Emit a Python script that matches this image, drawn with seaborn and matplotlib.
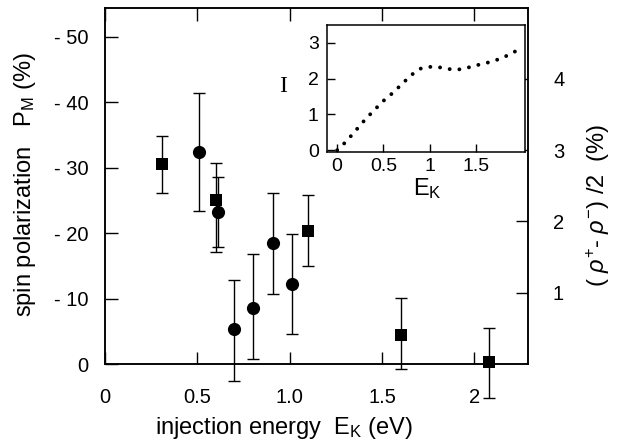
import matplotlib
matplotlib.use("Agg")
import matplotlib.pyplot as plt
import seaborn as sns
import pandas as pd

# ---- data ----
sq_energy = [0.31, 0.60, 1.10, 1.60, 2.08]
sq_pol = [-30.5, -25.0, -20.3, -4.5, -0.3]
sq_err_top = [4.4, 5.7, 5.5, 5.6, 5.2]
sq_err_bot = [4.3, 7.9, 5.3, 5.3, 5.5]

ci_energy = [0.51, 0.61, 0.70, 0.80, 0.91, 1.01]
ci_pol = [-32.4, -23.2, -5.3, -8.5, -18.5, -12.3]
ci_err_top = [9.0, 5.4, 7.6, 8.3, 7.6, 7.6]
ci_err_bot = [9.0, 5.3, 7.9, 7.7, 7.8, 7.7]

inset_e = [0.0, 0.1, 0.2, 0.3, 0.4, 0.5, 0.6, 0.7, 0.8, 0.9, 1.0,
           1.1, 1.2, 1.3, 1.4, 1.5, 1.6, 1.7, 1.8, 1.9, 2.0]
inset_i = [0.0, 0.25, 0.55, 0.85, 1.12, 1.38, 1.6, 1.85, 2.1, 2.28, 2.33,
           2.32, 2.27, 2.25, 2.3, 2.37, 2.43, 2.5, 2.6, 2.72, 2.9]

x_ticks = [0, 0.5, 1.0, 1.5, 2.0]
x_ticklabels = ["0", "0.5", "1.0", "1.5", "2"]
y_ticks = [0, -10, -20, -30, -40, -50]
y_ticklabels = ["0", "- 10", "- 20", "- 30", "- 40", "- 50"]
r_ticks = [1, 2, 3, 4]
r_ticklabels = ["1", "2", "3", "4"]
r_scale = 10.9
in_xticks = [0, 0.5, 1, 1.5]
in_xticklabels = ["0", "0.5", "1", "1.5"]
in_yticks = [0, 1, 2, 3]
in_yticklabels = ["0", "1", "2", "3"]

sns.set_style("ticks")
plt.rcParams['font.family'] = ['Liberation Sans', 'DejaVu Sans']
plt.rcParams['mathtext.fontset'] = 'custom'
plt.rcParams['mathtext.rm'] = 'Liberation Sans'
plt.rcParams['mathtext.it'] = 'Liberation Sans:italic'
for k in ['text.color', 'axes.labelcolor', 'xtick.color', 'ytick.color', 'axes.edgecolor']:
    plt.rcParams[k] = 'black'

FS = 14.5
LFS = 17
W, H = 618, 446
fig = plt.figure(figsize=(6.18, 4.46), dpi=100)
ax = fig.add_axes([105/W, 1-364/H, 423/W, 356/H])

sq_df = pd.DataFrame({"E": sq_energy, "P": sq_pol})
ci_df = pd.DataFrame({"E": ci_energy, "P": ci_pol})

ax.errorbar(sq_energy, sq_pol, yerr=[sq_err_top, sq_err_bot], fmt='none',
            ecolor='black', elinewidth=1.0, capsize=4.5, capthick=1.0, clip_on=False, zorder=3)
ax.errorbar(ci_energy, ci_pol, yerr=[ci_err_top, ci_err_bot], fmt='none',
            ecolor='black', elinewidth=1.0, capsize=4.5, capthick=1.0, clip_on=False, zorder=3)
sns.scatterplot(data=sq_df, x="E", y="P", marker="s", s=80, color="black",
                edgecolor="black", linewidth=0, ax=ax, clip_on=False, zorder=4)
sns.scatterplot(data=ci_df, x="E", y="P", marker="o", s=90, color="black",
                edgecolor="black", linewidth=0, ax=ax, clip_on=False, zorder=4)

ax.set_xlim(0, 2.29)
ax.set_ylim(0, -54.4)
ax.set_xticks(x_ticks)
ax.set_xticklabels(x_ticklabels)
ax.set_yticks(y_ticks)
ax.set_yticklabels(y_ticklabels)
ax.tick_params(axis='both', direction='in', length=9, width=1.0, labelsize=FS, top=True)
ax.tick_params(axis='x', pad=17)
ax.tick_params(axis='y', pad=12)
for s in ax.spines.values():
    s.set_linewidth(1.1)
ax.set_xlabel("")
ax.set_ylabel("")

ax2 = ax.twinx()
ax2.set_ylim(0, 54.4 / r_scale)
ax2.set_yticks(r_ticks)
ax2.set_yticklabels(r_ticklabels)
ax2.tick_params(axis='y', direction='in', length=9, width=1.0, labelsize=FS, pad=18)
for s in ax2.spines.values():
    s.set_linewidth(1.1)

fig.text(284/W, 1-428/H, "injection energy  E$_\\mathrm{K}$ (eV)", fontsize=LFS,
         ha='center', va='center')
fig.text(25/W, 1-185/H, "spin polarization   P$_\\mathrm{M}$ (%)", fontsize=LFS,
         ha='center', va='center', rotation=90)
fig.text(598/W, 1-205/H, "( $\\rho^{+}$- $\\rho^{-}$) /2  (%)", fontsize=LFS,
         ha='center', va='center', rotation=90)

# inset
axi = fig.add_axes([327/W, 1-152/H, 198/W, 127/H])
in_df = pd.DataFrame({"E": inset_e, "I": inset_i})
sns.lineplot(data=in_df, x="E", y="I", ax=axi, color="black", linewidth=2.8,
             linestyle=(0, (0.01, 2.5)), dash_capstyle='round')
axi.set_xlim(-0.11, 2.03)
axi.set_ylim(-0.05, 3.5)
axi.set_xticks(in_xticks)
axi.set_xticklabels(in_xticklabels)
axi.set_yticks(in_yticks)
axi.set_yticklabels(in_yticklabels)
axi.tick_params(axis='both', direction='in', length=6, width=1.0, labelsize=14)
axi.tick_params(axis='x', pad=4)
axi.tick_params(axis='y', pad=6)
for s in axi.spines.values():
    s.set_linewidth(1.1)
axi.set_xlabel("")
axi.set_ylabel("")
fig.text(427/W, 1-189/H, "E$_\\mathrm{K}$", fontsize=LFS, ha='center', va='center')
fig.text(283/W, 1-86/H, "I", fontsize=LFS, ha='center', va='center', family='Liberation Serif')

fig.savefig("out.png", dpi=100)
